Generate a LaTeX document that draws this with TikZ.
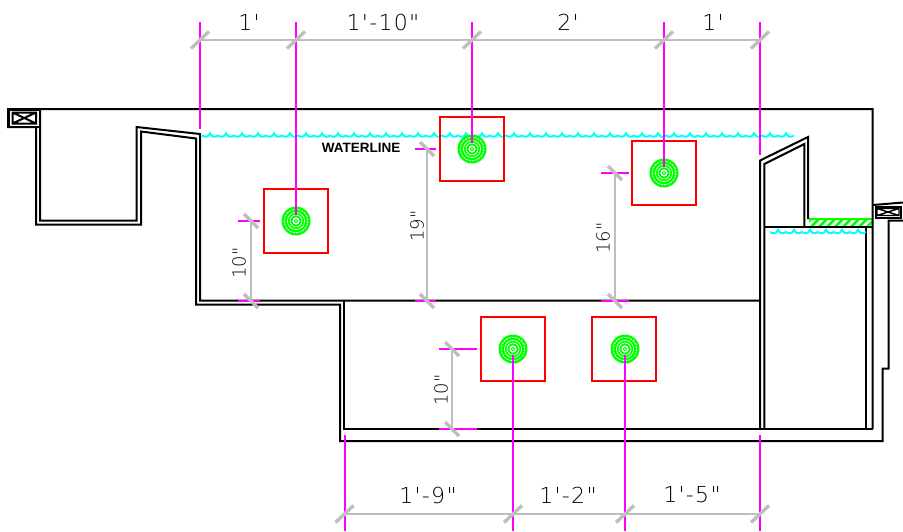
\documentclass[tikz,border=0pt]{standalone}
\usepackage{fontspec}
\setmainfont{Liberation Sans}
\newfontfamily\dimfont[Ligatures=NoCommon,LetterSpace=6]{DejaVu Sans ExtraLight}
\newfontfamily\vdimfont[Ligatures=NoCommon]{DejaVu Sans ExtraLight}
\definecolor{mag}{RGB}{255,0,255}
\definecolor{aqua}{RGB}{0,255,255}
\definecolor{grn}{RGB}{0,255,0}
\definecolor{dimgrey}{RGB}{190,190,190}
\tikzset{
  wall/.style={draw=black,line width=2pt,line join=miter},
  redbox/.style={draw=red,line width=2pt},
  extline/.style={draw=mag,line width=2pt},
  dimline/.style={draw=dimgrey,line width=2pt},
  tick/.style={draw=dimgrey,line width=3.4pt},
  water/.style={draw=aqua,line width=2pt},
  dimtext/.style={font=\dimfont\fontsize{22}{22}\selectfont,inner sep=0pt,text=black},
  vtext/.style={font=\vdimfont\fontsize{18}{18}\selectfont,inner sep=0pt,text=black,rotate=90},
  wl/.style={font=\bfseries\fontsize{13.5}{13.5}\selectfont,inner sep=0pt}
}
\newcommand{\scallops}[3]{% x from, x to, y
  \draw[water] (#1,#3)
  \foreach \q in {#1,\numexpr#1+16\relax,...,\numexpr#2-16\relax}{
    .. controls (\q+3,#3+2) and (\q+6,#3+2) .. (\q+8,#3-2.2)
    .. controls (\q+10,#3+2) and (\q+13,#3+2) .. (\q+16,#3) };
}
\newcommand{\fitting}[5]{% cx cy, box corner
  \fill[grn] (#1,#2) circle (14.5);
  \draw[white,line width=.7pt,dash pattern=on 2.2pt off 1pt] (#1,#2) circle (11.8);
  \draw[white,line width=.6pt] (#1,#2) circle (8.6);
  \draw[white,line width=.6pt] (#1,#2) circle (6);
  \fill[white] (#1,#2) circle (3.6);
  \draw[grn,line width=.8pt] (#1,#2) circle (1.7);
  \draw[redbox] (#3,#4) rectangle ++(64,64);
}
\begin{document}
\begin{tikzpicture}[x=1pt,y=-1pt]
\useasboundingbox (0,0) rectangle (903,531);
% hatch
\begin{scope}
\clip (809,218.5) rectangle (872,227);
\fill[grn] (809,218.5) rectangle (872,227);
\foreach \h in {806,814,...,878}{\draw[white,line width=2.6pt] (\h,228) -- (\h+10,218);}
\end{scope}
\draw[grn,line width=1.4pt] (809,219) -- (872,219);
% walls
\draw[wall] (872.5,429) -- (872.5,109) -- (8,109) -- (8,127) -- (36,127) -- (36,224.5) -- (141,224.5) -- (141,131.5) -- (196,138.5) -- (196,304.5) -- (340,304.5) -- (340,441) -- (882.5,441) -- (882.5,368.5) -- (888.5,368.5) -- (888.5,220.5) -- (903,220.5);
\draw[wall] (40,109) -- (40,220.5) -- (136.5,220.5) -- (136.5,127) -- (200,134) -- (200,300.5) -- (760,300.5);
\draw[wall] (344,300.5) -- (344,429) -- (872.5,429);
\draw[wall] (760,429) -- (760,160.5) -- (808,137) -- (808,219);
\draw[wall] (764.3,429) -- (764.3,164) -- (804.3,144) -- (804.3,226.7);
\draw[wall] (764.3,226.7) -- (872.5,226.7);
\draw[wall] (866.3,226.7) -- (866.3,429);
\draw[wall] (873,205) -- (903,202.5);
% valve boxes
\draw[wall] (8.5,109.5) rectangle (40,127);
\draw[wall] (12.5,112.5) rectangle (36,123.5) (12.5,112.5) -- (36,123.5) (12.5,123.5) -- (36,112.5);
\draw[wall] (875.5,206.5) rectangle (901,217.5);
\draw[wall,line width=1.4pt] (877,208.5) rectangle (899,215.5) (877,208.5) -- (899,215.5) (877,215.5) -- (899,208.5);
% water
\scallops{202}{794}{135.5}
\scallops{770}{866}{232}
% fittings
\fitting{296}{221}{264}{189}{}
\fitting{472}{149}{440}{117}{}
\fitting{664}{173}{632}{141}{}
\fitting{513}{349}{481}{317}{}
\fitting{625}{349}{592}{317}{}
% extension lines
\draw[extline] (200,22) -- (200,129);
\draw[extline] (296,22) -- (296,215);
\draw[extline] (472,22) -- (472,143);
\draw[extline] (664,22) -- (664,167);
\draw[extline] (760,22) -- (760,155);
\draw[extline] (760,435) -- (760,531);
\draw[extline] (344.5,435) -- (344.5,531);
\draw[extline] (513,355) -- (513,531);
\draw[extline] (625,355) -- (625,531);
\draw[extline] (238,221) -- (260,221);
\draw[extline] (238,301) -- (260,301);
\draw[extline] (415,148.7) -- (436,148.7);
\draw[extline] (415,301) -- (436,301);
\draw[extline] (601,173) -- (629,173);
\draw[extline] (601,301) -- (629,301);
\draw[extline] (439,349) -- (477,349);
\draw[extline] (439,429) -- (477,429);
% dimension lines
\draw[dimline] (200,40) -- (760,40);
\draw[dimline] (344.5,514) -- (760,514);
\draw[dimline] (251,221) -- (251,301);
\draw[dimline] (427,149) -- (427,301);
\draw[dimline] (615,173) -- (615,301);
\draw[dimline] (452,349) -- (452,429);
\foreach \x in {200,296,472,664,760}{\draw[tick] (\x-9,48.5) -- (\x+9,31.5);}
\foreach \x in {344.5,513,625,760}{\draw[tick] (\x-9,522.5) -- (\x+9,505.5);}
\foreach \x/\y in {251/221,251/301,427/149,427/301,615/173,615/301,452/349,452/429}{\draw[tick] (\x-7,\y-7) -- (\x+7,\y+7);}
% labels
\node[wl] (wlabel) at (361,147.5) {WATERLINE};
\node[dimtext] (t1) at (249,22) {1'};
\node[dimtext] (t2) at (383,22) {1'-10"};
\node[dimtext] (t3) at (568,22) {2'};
\node[dimtext] (t4) at (713,22) {1'};
\node[dimtext] (b1) at (428,495) {1'-9"};
\node[dimtext] (b2) at (568,495) {1'-2"};
\node[dimtext] (b3) at (692,495) {1'-5"};
\node[vtext] (v1) at (239,263) {10"};
\node[vtext] (v2) at (417,226) {19"};
\node[vtext] (v3) at (603,238) {16"};
\node[vtext] (v4) at (441,390) {10"};
\end{tikzpicture}
\end{document}
